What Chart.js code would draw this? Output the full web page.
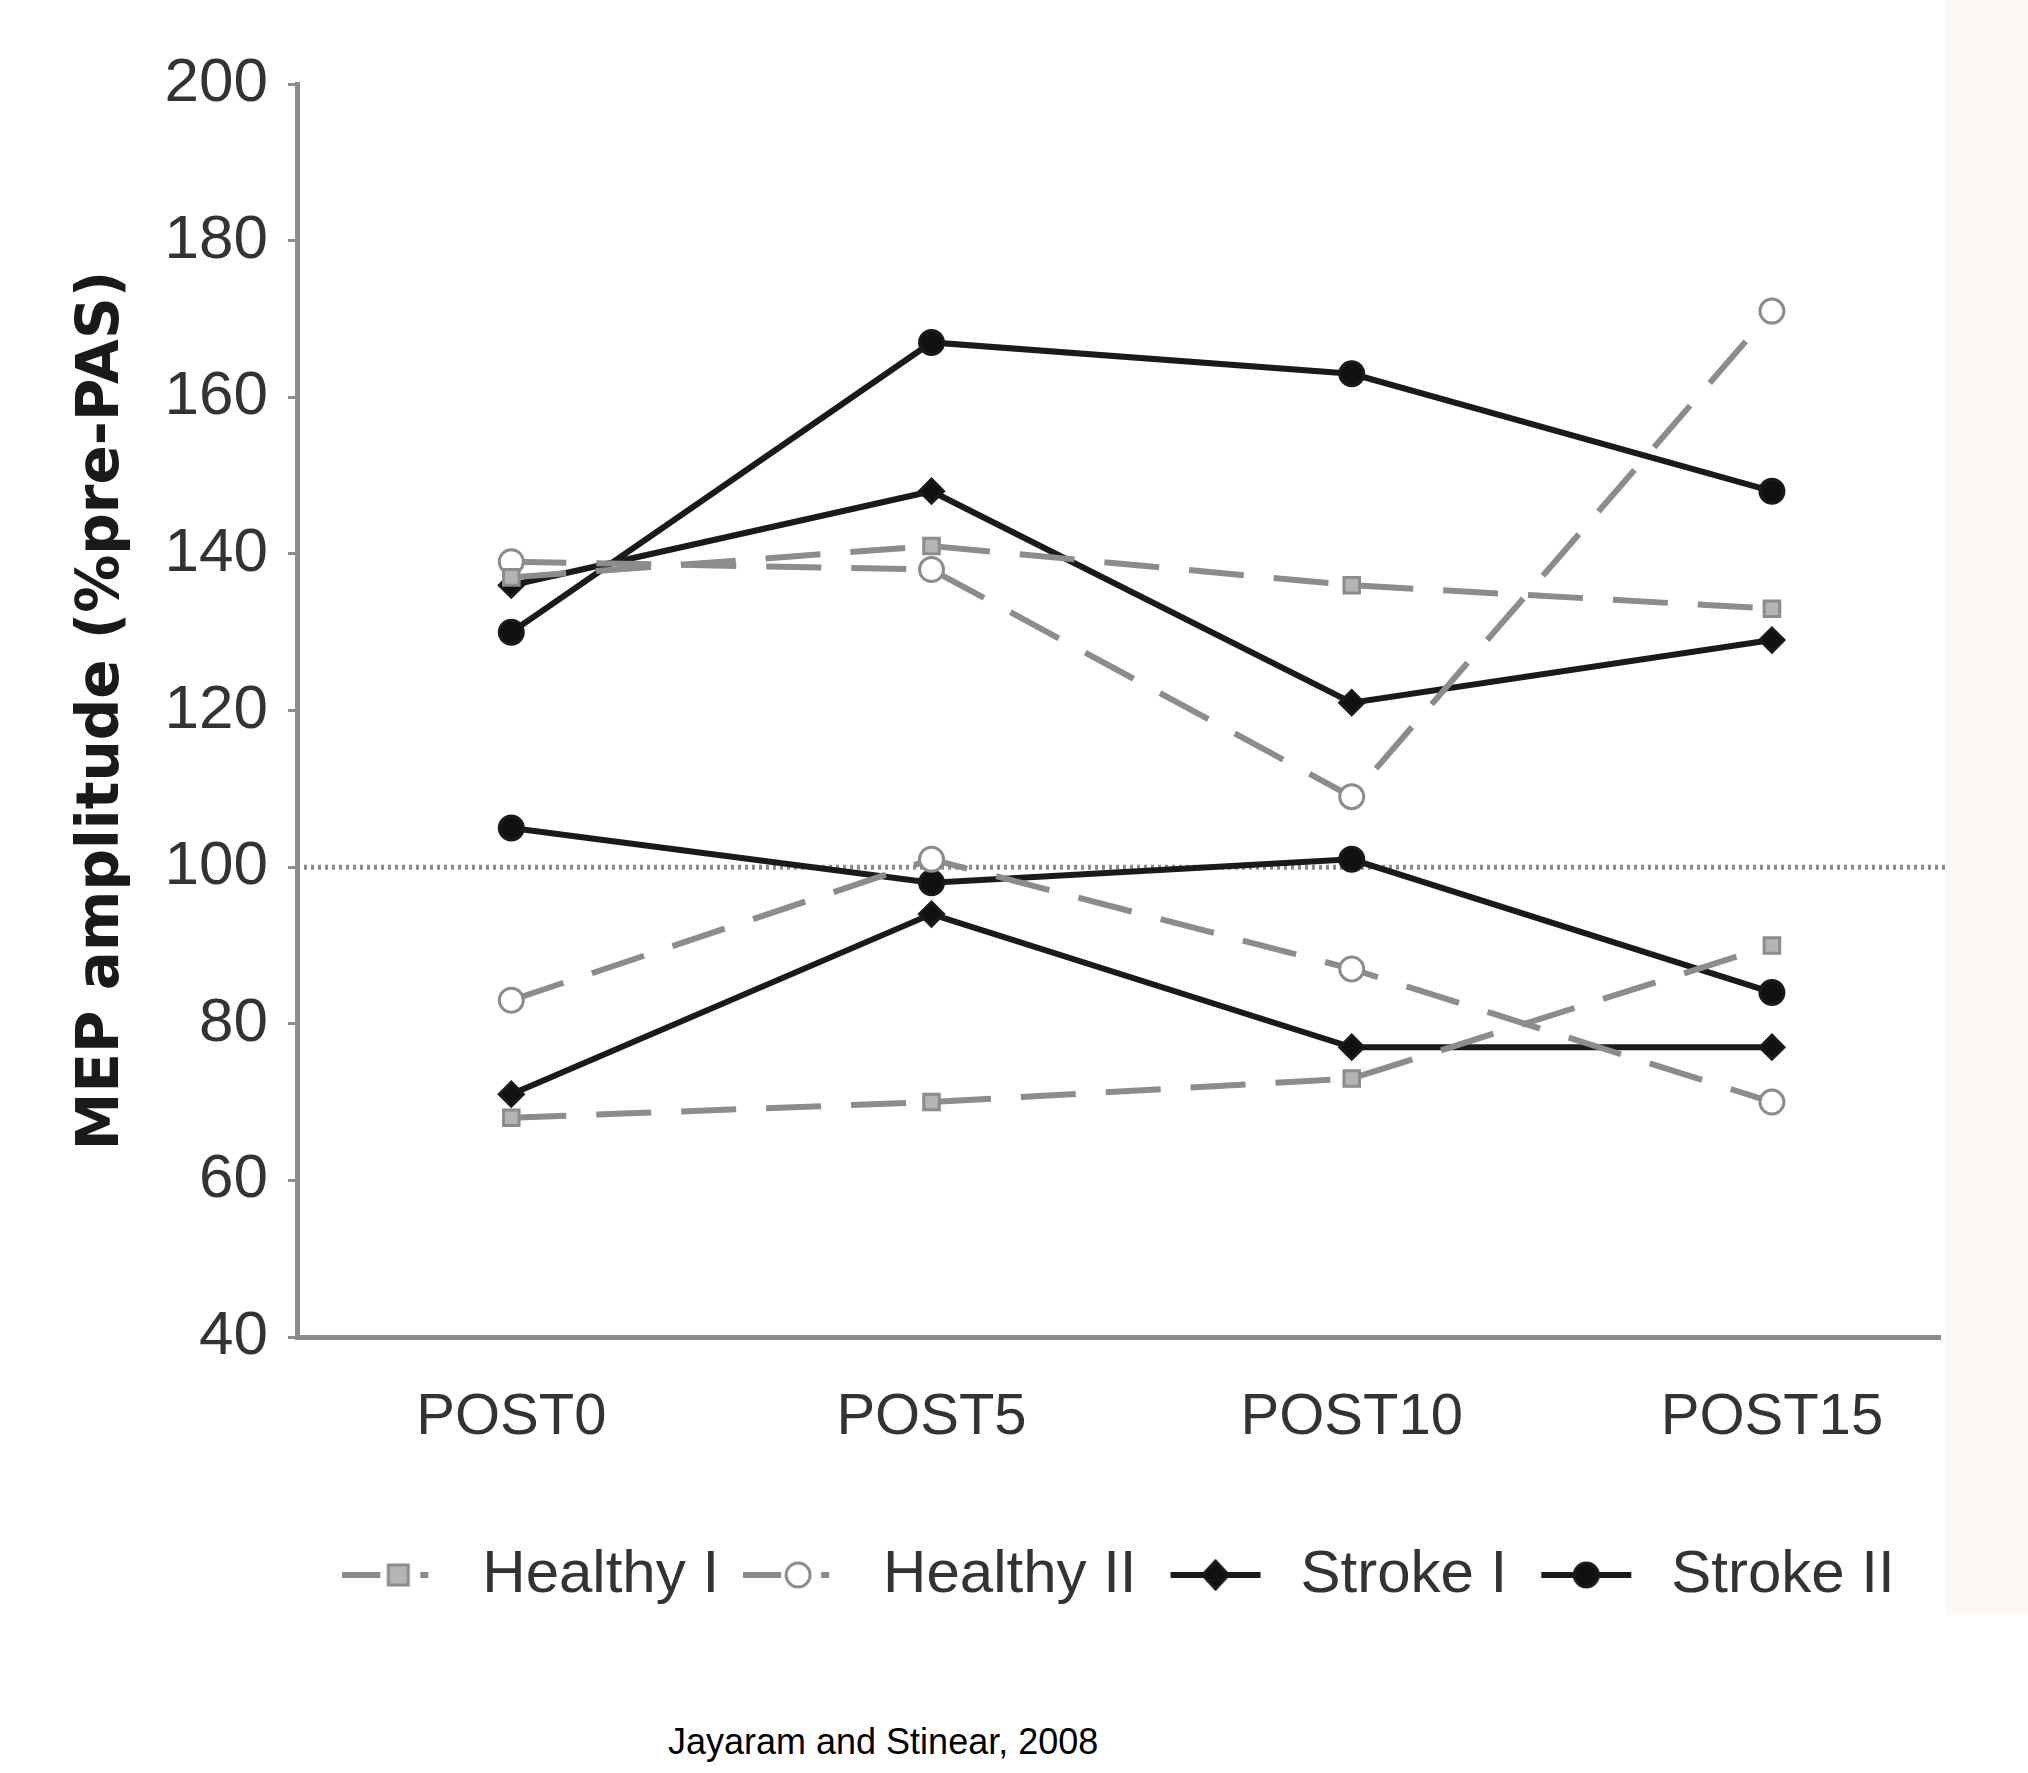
<!DOCTYPE html>
<html>
<head>
<meta charset="utf-8">
<script src="https://cdn.jsdelivr.net/npm/chart.js@4.4.1/dist/chart.umd.min.js"></script>
<style>
  body { margin: 0; background: #fff; }
  #wrap { position: relative; width: 2028px; height: 1773px; }
  #box { position: absolute; left: 0; top: 0; width: 2028px; height: 1615px; }
  #source { position: absolute; left: 668px; top: 1724px; font: 36px "Liberation Sans", Arial, sans-serif; line-height: 36px; color: #000; }
</style>
</head>
<body>
<div id="wrap">
  <div id="box"><canvas id="mepChart"></canvas></div>
  <div id="source">Jayaram and Stinear, 2008</div>
</div>
<script>
// time points (minutes after PAS) and their labels
var times = [0, 5, 10, 15];
var xLabels = ['POST0', 'POST5', 'POST10', 'POST15'];
var yTicks = [40, 60, 80, 100, 120, 140, 160, 180, 200];

// MEP amplitude, % of pre-PAS, one array per subject
var healthyA = [139, 138, 109, 171];
var healthyB = [137, 141, 136, 133];
var healthyC = [83, 101, 87, 70];
var healthyD = [68, 70, 73, 90];
var strokeA = [130, 167, 163, 148];
var strokeB = [136, 148, 121, 129];
var strokeC = [105, 98, 101, 84];
var strokeD = [71, 94, 77, 77];

var groupNames = ['Healthy I', 'Healthy II', 'Stroke I', 'Stroke II'];

var sans = '"Liberation Sans", Arial, sans-serif';
var grey = '#8c8c8c';

// look of each group
var groupStyle = {
  'Healthy I': { color: grey, dash: [55, 30], marker: 'rect', fill: '#b4b4b4', radius: 11 },
  'Healthy II': { color: grey, dash: [55, 30], marker: 'circle', fill: '#ffffff', radius: 12 },
  'Stroke I': { color: '#1a1a1a', dash: [], marker: 'rectRot', fill: '#111111', radius: 12 },
  'Stroke II': { color: '#1a1a1a', dash: [], marker: 'circle', fill: '#111111', radius: 12 }
};

function points(values) {
  return values.map(function (v, i) { return { x: times[i], y: v }; });
}

function makeSet(group, values) {
  var s = groupStyle[group];
  return {
    label: group,
    data: points(values),
    borderColor: s.color,
    borderWidth: 6,
    borderDash: s.dash,
    pointStyle: s.marker,
    pointRadius: s.radius,
    pointBackgroundColor: s.fill,
    pointBorderColor: s.color,
    pointBorderWidth: 3,
    tension: 0,
    fill: false
  };
}

// small line + marker picture for the legend
function legendIcon(group) {
  var s = groupStyle[group];
  var c = document.createElement('canvas');
  c.width = 110; c.height = 40;
  var g = c.getContext('2d');
  g.strokeStyle = s.color;
  g.lineWidth = 6;
  g.beginPath();
  if (s.dash.length) {
    g.moveTo(0, 20); g.lineTo(38, 20);
    g.moveTo(78, 20); g.lineTo(86, 20);
  } else {
    g.moveTo(10, 20); g.lineTo(100, 20);
  }
  g.stroke();
  g.fillStyle = s.fill;
  g.lineWidth = 3;
  g.beginPath();
  if (s.marker === 'rect') {
    g.rect(46, 10, 20, 20);
  } else if (s.marker === 'rectRot') {
    g.moveTo(55, 6); g.lineTo(68, 20); g.lineTo(55, 34); g.lineTo(42, 20); g.closePath();
  } else {
    g.arc(55, 20, 12, 0, Math.PI * 2);
  }
  g.fill();
  g.stroke();
  return c;
}

// dotted reference line at 100 %
var baseline = {
  id: 'baseline',
  beforeDatasetsDraw: function (chart) {
    var y = chart.scales.y.getPixelForValue(100);
    var ctx = chart.ctx;
    ctx.save();
    ctx.strokeStyle = '#8c8c8c';
    ctx.lineWidth = 5;
    ctx.setLineDash([3, 4]);
    ctx.beginPath();
    ctx.moveTo(chart.chartArea.left, y);
    ctx.lineTo(chart.chartArea.right + 6, y);
    ctx.stroke();
    ctx.restore();
  }
};

// off-white scan margin on the right
var margin = {
  id: 'margin',
  afterDraw: function (chart) {
    var ctx = chart.ctx;
    ctx.save();
    ctx.fillStyle = '#fcf8f6';
    ctx.fillRect(1945, 0, chart.width - 1945, chart.height);
    ctx.restore();
  }
};

var data = {
  datasets: [
    makeSet('Healthy I', healthyB),
    makeSet('Healthy II', healthyA),
    makeSet('Stroke I', strokeB),
    makeSet('Stroke II', strokeA),
    makeSet('Healthy I', healthyD),
    makeSet('Healthy II', healthyC),
    makeSet('Stroke I', strokeD),
    makeSet('Stroke II', strokeC)
  ]
};

var config = {
  type: 'line',
  data: data,
  plugins: [baseline, margin],
  options: {
    responsive: true,
    maintainAspectRatio: false,
    animation: false,
    layout: { padding: { left: 0, right: 88, top: 84, bottom: 0 } },
    plugins: {
      tooltip: { enabled: false },
      legend: {
        position: 'bottom',
        fullSize: false,
        labels: {
          usePointStyle: true,
          pointStyleWidth: 110,
          boxHeight: 40,
          padding: 24,
          color: '#333',
          font: { family: sans, size: 60 },
          generateLabels: function () {
            return groupNames.map(function (name, i) {
              return {
                text: name,
                pointStyle: legendIcon(name),
                fillStyle: 'transparent',
                strokeStyle: 'transparent',
                lineWidth: 0,
                fontColor: '#333',
                datasetIndex: i
              };
            });
          }
        }
      }
    },
    scales: {
      x: {
        type: 'linear',
        min: -2.55,
        max: 17,
        afterBuildTicks: function (axis) {
          axis.ticks = times.map(function (t) { return { value: t }; });
        },
        afterFit: function (scale) { scale.height = 184; },
        grid: { display: false },
        border: { color: grey, width: 5 },
        ticks: {
          padding: 38,
          color: '#333',
          font: { family: sans, size: 58 },
          maxRotation: 0,
          callback: function (v) { return xLabels[times.indexOf(v)]; }
        }
      },
      y: {
        min: 40,
        max: 200,
        afterBuildTicks: function (axis) {
          axis.ticks = yTicks.map(function (t) { return { value: t }; });
        },
        afterFit: function (scale) { scale.width = 297; },
        grid: { drawOnChartArea: false, drawTicks: true, tickLength: 9, color: grey, lineWidth: 3 },
        border: { color: grey, width: 5 },
        ticks: {
          padding: 20,
          color: '#333',
          font: { family: sans, size: 62 }
        },
        title: {
          display: true,
          text: 'MEP amplitude (%pre-PAS)',
          color: '#1a1a1a',
          font: { family: '"DejaVu Sans", sans-serif', size: 58, weight: 'bold' },
          padding: { top: 68, bottom: 0 }
        }
      }
    }
  }
};

var mepChart = new Chart(document.getElementById('mepChart'), config);
</script>
</body>
</html>
